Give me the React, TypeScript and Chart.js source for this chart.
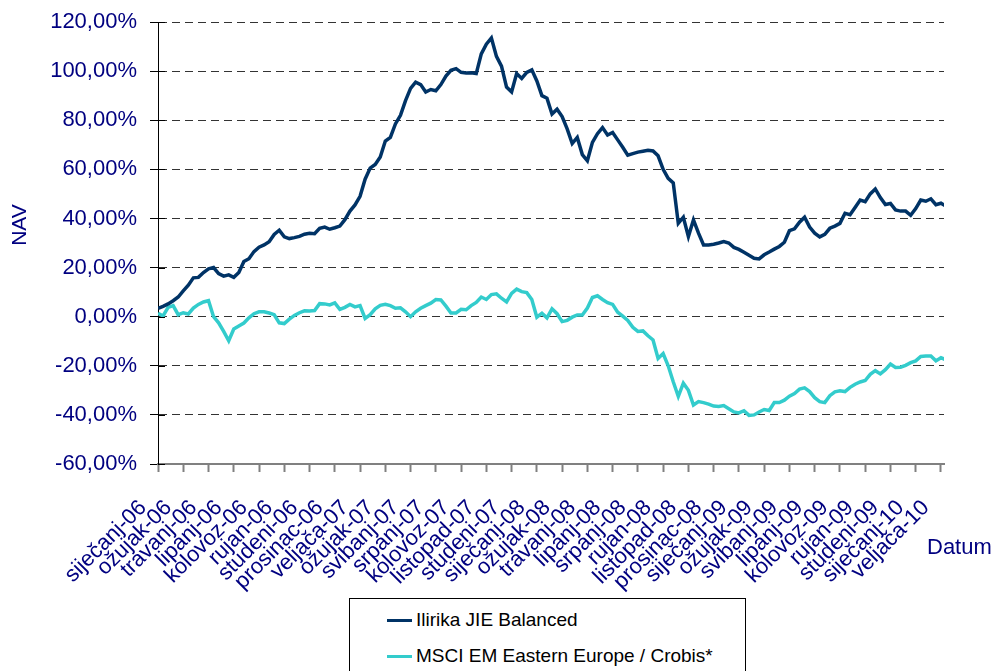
import React, { useEffect, useRef } from 'react';
import { Chart, registerables } from 'chart.js';

Chart.register(...registerables);

// Tick labels of the date axis (one every tick)
const tickLabels = [
  'siječanj-06', 'ožujak-06', 'travanj-06', 'lipanj-06', 'kolovoz-06', 'rujan-06',
  'studeni-06', 'prosinac-06', 'veljača-07', 'ožujak-07', 'svibanj-07', 'srpanj-07',
  'kolovoz-07', 'listopad-07', 'studeni-07', 'siječanj-08', 'ožujak-08', 'travanj-08',
  'lipanj-08', 'srpanj-08', 'rujan-08', 'listopad-08', 'prosinac-08', 'siječanj-09',
  'ožujak-09', 'svibanj-09', 'lipanj-09', 'kolovoz-09', 'rujan-09', 'studeni-09',
  'siječanj-10', 'veljača-10',
];

// samples between two consecutive tick labels
const SAMPLES_PER_TICK = 5;
const AXIS_END = 155.6;

// Ilirika JIE Balanced, cumulative return in %
const ilirika = [
  3.4, 4.2, 5.2, 6.5, 8.0, 10.5, 12.8, 15.8, 16.0, 18.0,
  19.5, 20.0, 17.5, 16.5, 17.0, 16.0, 18.0, 22.5, 23.6, 26.5,
  28.3, 29.2, 30.5, 33.5, 35.2, 32.5, 31.8, 32.2, 32.7, 33.6,
  34.0, 33.8, 36.0, 36.5, 35.6, 36.2, 36.9, 39.5, 43.0, 45.5,
  49.0, 56.0, 60.5, 62.0, 65.0, 71.5, 73.0, 78.5, 82.0, 88.0,
  93.0, 95.5, 94.5, 91.5, 92.5, 92.0, 94.5, 98.0, 100.3, 101.0,
  99.5, 99.2, 99.3, 99.0, 107.0, 111.0, 113.5, 106.0, 102.0, 93.5,
  91.5, 99.0, 97.0, 99.5, 100.5, 96.0, 90.0, 89.0, 82.5, 84.5,
  81.5, 76.5, 70.5, 73.0, 66.0, 63.5, 71.0, 74.5, 77.0, 74.0,
  75.0, 72.0, 69.0, 65.8, 66.4, 67.0, 67.4, 67.8, 67.5, 65.5,
  60.0, 56.3, 54.5, 38.0, 40.5, 32.6, 39.4, 34.0, 29.2, 29.2,
  29.5, 30.0, 30.6, 30.0, 28.2, 27.4, 26.2, 25.0, 23.8, 23.5,
  25.2, 26.3, 27.5, 28.6, 30.3, 35.0, 35.8, 38.5, 40.5, 36.5,
  34.0, 32.5, 33.5, 36.0, 36.9, 38.0, 42.1, 41.5, 44.5, 47.5,
  46.8, 50.0, 52.0, 48.5, 45.7, 46.1, 43.5, 43.0, 43.0, 41.3,
  44.0, 47.5, 47.0, 48.0, 45.6, 46.2, 45.0,
];

// MSCI EM Eastern Europe / Crobis*, cumulative return in %
const msci = [
  1.4, 0.3, 3.8, 4.5, 0.8, 1.6, 1.1, 3.5, 5.0, 6.0,
  6.5, 0.0, -2.5, -6.0, -9.8, -5.0, -3.8, -2.6, -0.5, 1.2,
  2.0, 2.0, 1.5, 0.8, -2.5, -2.8, -1.0, 0.5, 1.6, 2.4,
  2.3, 2.5, 5.3, 5.2, 4.8, 5.6, 3.0, 3.8, 5.0, 4.0,
  4.5, -0.7, 0.8, 3.2, 4.6, 5.0, 4.5, 3.4, 3.6, 2.0,
  0.0, 2.0, 3.4, 4.5, 5.5, 7.0, 6.8, 4.3, 1.5, 1.5,
  3.0, 2.8, 4.5, 5.8, 8.0, 7.0, 9.0, 9.3, 7.5, 6.0,
  9.5, 11.2, 10.2, 9.8, 7.0, -0.2, 1.4, -0.5, 3.2, 1.2,
  -2.0, -1.5, -0.2, 0.7, 0.7, 3.5, 7.8, 8.5, 7.0, 5.7,
  5.0, 1.8, 0.2, -1.5, -4.3, -6.0, -5.8, -7.8, -9.5, -17.0,
  -15.0, -20.0, -26.5, -32.5, -27.1, -30.0, -36.0, -34.6, -35.0, -35.6,
  -36.4, -36.6, -36.2, -37.5, -38.8, -39.2, -38.3, -40.2, -40.0, -38.8,
  -37.8, -38.2, -35.0, -35.0, -34.0, -32.4, -31.3, -29.5, -29.0, -30.5,
  -33.0, -34.6, -35.0, -32.2, -30.6, -30.2, -30.5, -28.8, -27.5, -26.6,
  -26.0, -23.5, -22.0, -23.3, -21.6, -19.3, -20.7, -20.6, -19.8, -18.7,
  -18.0, -16.2, -16.0, -16.0, -18.0, -16.7, -17.6,
];

const seriesNames = ['Ilirika JIE Balanced', 'MSCI EM Eastern Europe / Crobis*'];
const seriesColors = ['#003366', '#33CCCC'];

const Y_MIN = -60;
const Y_MAX = 120;
const Y_STEP = 20;

const FONT = '"Liberation Sans", Arial, sans-serif';
const NAVY = '#000080';

const extrasPlugin = {
  id: 'extras',
  afterDraw(chart: any) {
    const ctx = chart.ctx;
    const area = chart.chartArea;
    const yScale = chart.scales.y;
    ctx.save();
    // inner part of crossing tick marks on the value axis
    ctx.strokeStyle = '#000';
    ctx.lineWidth = 1;
    yScale.ticks.forEach((t: any) => {
      const py = Math.round(yScale.getPixelForValue(t.value)) + 0.5;
      ctx.beginPath();
      ctx.moveTo(area.left, py);
      ctx.lineTo(area.left + 7, py);
      ctx.stroke();
    });
    // axis titles
    ctx.fillStyle = NAVY;
    ctx.font = `21px ${FONT}`;
    ctx.textAlign = 'center';
    ctx.textBaseline = 'middle';
    ctx.translate(20, 225);
    ctx.rotate(-Math.PI / 2);
    ctx.fillText('NAV', 0, 0);
    ctx.restore();
    ctx.save();
    ctx.fillStyle = NAVY;
    ctx.font = `22px ${FONT}`;
    ctx.textAlign = 'left';
    ctx.textBaseline = 'alphabetic';
    ctx.fillText('Datum', 927, 554);
    ctx.restore();
  },
};

function ChartCanvas() {
  const ref = useRef<HTMLCanvasElement | null>(null);
  useEffect(() => {
    if (!ref.current) return;
    const chart = new Chart(ref.current, {
      type: 'line',
      data: {
        datasets: [
          {
            label: seriesNames[0],
            data: ilirika.map((v, i) => ({ x: i, y: v })),
            borderColor: seriesColors[0],
            backgroundColor: seriesColors[0],
            borderWidth: 3.5,
            pointRadius: 0,
            tension: 0,
          },
          {
            label: seriesNames[1],
            data: msci.map((v, i) => ({ x: i, y: v })),
            borderColor: seriesColors[1],
            backgroundColor: seriesColors[1],
            borderWidth: 3.5,
            pointRadius: 0,
            tension: 0,
          },
        ],
      },
      options: {
        animation: false,
        responsive: false,
        maintainAspectRatio: false,
        layout: { padding: { top: 22, right: 52, left: 0, bottom: 0 } },
        plugins: {
          legend: { display: false },
          tooltip: { enabled: false },
        },
        scales: {
          x: {
            type: 'linear',
            min: 0,
            max: AXIS_END,
            afterBuildTicks: (scale: any) => {
              scale.ticks = tickLabels.map((_, k) => ({ value: k * SAMPLES_PER_TICK }));
            },
            afterFit: (scale: any) => {
              scale.height = 207;
              scale.paddingLeft = 0;
              scale.paddingRight = 0;
              scale.paddingTop = 0;
              scale.paddingBottom = 0;
            },
            grid: {
              drawOnChartArea: false,
              drawTicks: true,
              tickLength: 8,
              tickColor: '#808080',
              tickWidth: 2,
            },
            border: { color: '#808080', width: 2 },
            ticks: {
              autoSkip: false,
              minRotation: 45,
              maxRotation: 45,
              padding: 23,
              labelOffset: -15,
              color: NAVY,
              font: { family: FONT, size: 22 },
              callback: (value: any) => tickLabels[Math.round(Number(value) / SAMPLES_PER_TICK)] ?? '',
            },
          },
          y: {
            min: Y_MIN,
            max: Y_MAX,
            afterFit: (scale: any) => {
              scale.width = 158;
              scale.paddingTop = 0;
              scale.paddingBottom = 0;
              scale.paddingLeft = 0;
              scale.paddingRight = 0;
            },
            ticks: {
              stepSize: Y_STEP,
              padding: 13,
              color: NAVY,
              font: { family: FONT, size: 22 },
              callback: (value: any) => Number(value).toFixed(2).replace('.', ',') + '%',
            },
            grid: {
              color: (c: any) => (c.tick && c.tick.value === Y_MIN ? 'rgba(0,0,0,0)' : '#333333'),
              lineWidth: 1,
              tickLength: 8,
              tickColor: '#000',
              tickWidth: 1,
            },
            border: { color: '#000', width: 1, dash: [8, 5] },
          },
        },
      },
      plugins: [extrasPlugin],
    });
    return () => chart.destroy();
  }, []);
  return <canvas ref={ref} width={996} height={671} style={{ position: 'absolute', left: 0, top: 0 }} />;
}

function LegendBox() {
  const item = (name: string, color: string, top: number) => (
    <div
      key={name}
      style={{ position: 'absolute', left: 37, top, height: 24, display: 'flex', alignItems: 'center' }}
    >
      <div style={{ width: 25, height: 3, background: color, marginRight: 4 }} />
      <span style={{ font: `19px ${FONT}`, color: '#000', whiteSpace: 'nowrap' }}>{name}</span>
    </div>
  );
  return (
    <div
      style={{
        position: 'absolute',
        left: 349,
        top: 598,
        width: 397,
        height: 90,
        border: '1px solid #000',
        background: '#fff',
        boxSizing: 'border-box',
      }}
    >
      {item(seriesNames[0], seriesColors[0], 9)}
      {item(seriesNames[1], seriesColors[1], 45)}
    </div>
  );
}

export default function App() {
  return (
    <div
      style={{
        position: 'absolute',
        left: 0,
        top: 0,
        width: 996,
        height: 671,
        overflow: 'hidden',
        background: '#fff',
      }}
    >
      <ChartCanvas />
      <LegendBox />
    </div>
  );
}
